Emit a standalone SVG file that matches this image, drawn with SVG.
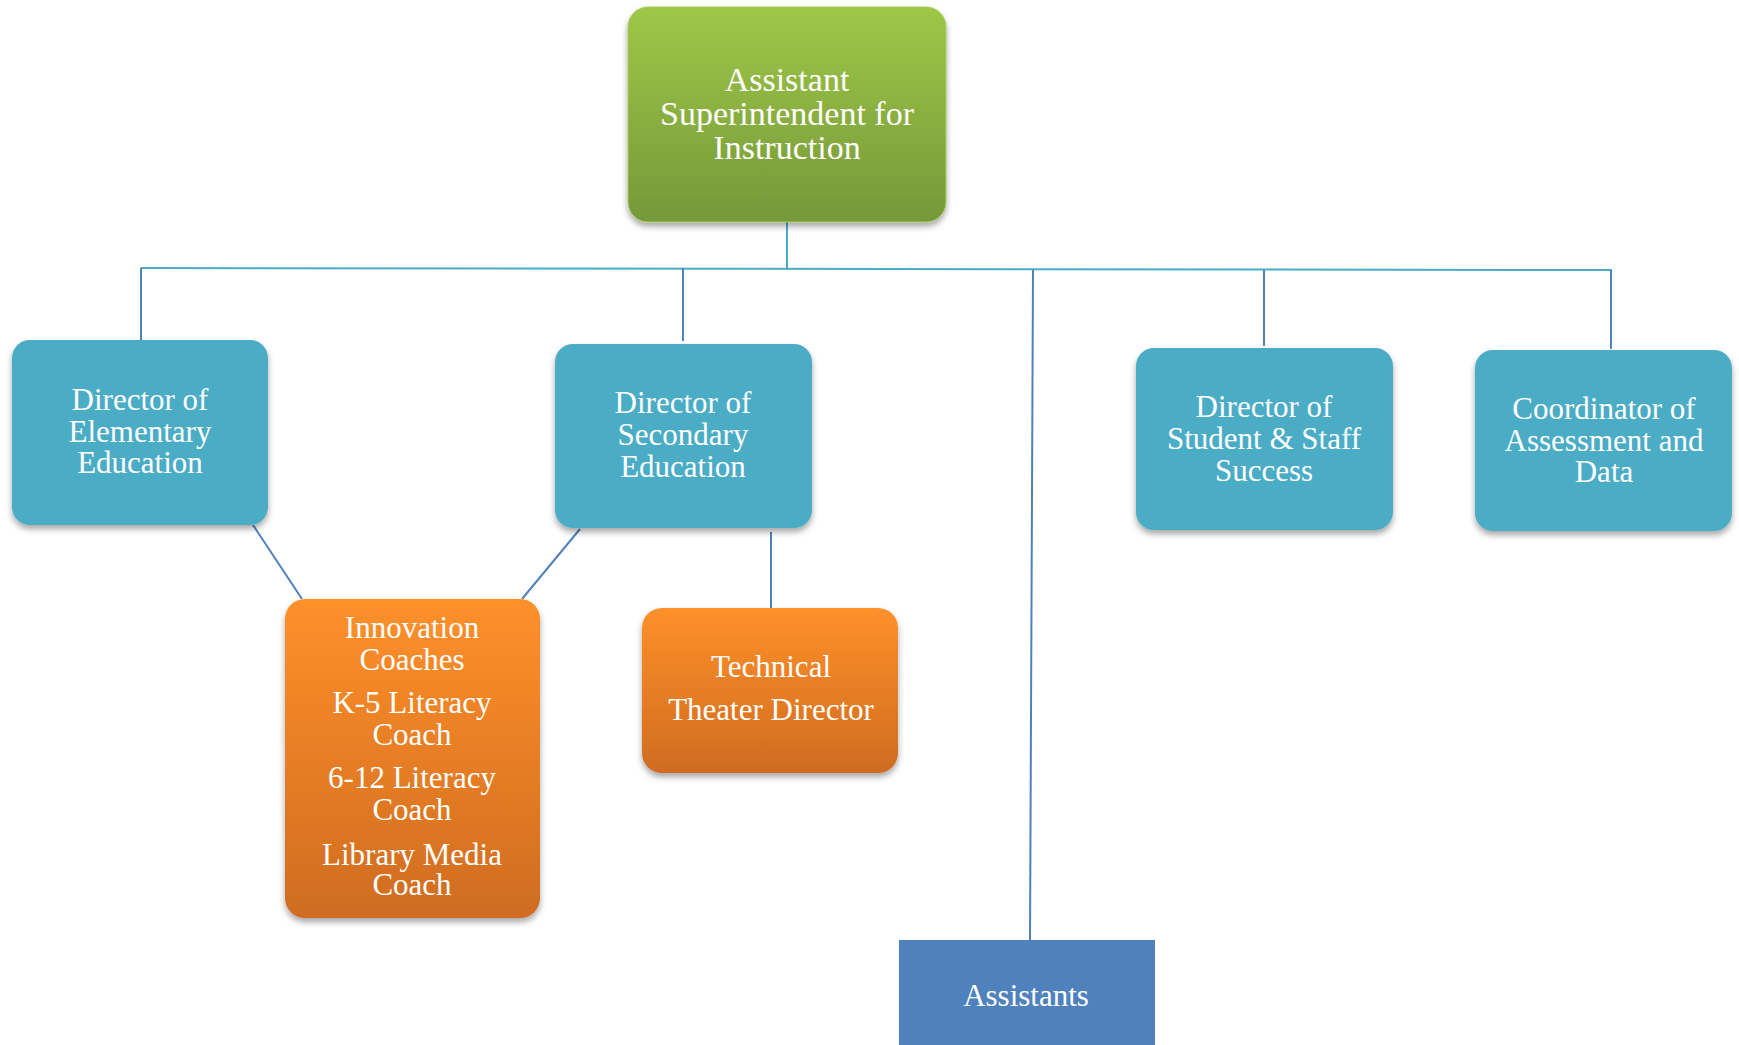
<svg xmlns="http://www.w3.org/2000/svg" width="1739" height="1045" viewBox="0 0 1739 1045">
<defs>
<linearGradient id="gGreen" x1="0" y1="0" x2="0" y2="1">
<stop offset="0" stop-color="#9EC747"/>
<stop offset="1" stop-color="#76983A"/>
</linearGradient>
<linearGradient id="gOrange" x1="0" y1="0" x2="0" y2="1">
<stop offset="0" stop-color="#FF902B"/>
<stop offset="1" stop-color="#CF6C20"/>
</linearGradient>
<filter id="sh" x="-10%" y="-10%" width="120%" height="125%">
<feDropShadow dx="0" dy="4" stdDeviation="3" flood-color="#000" flood-opacity="0.35"/>
</filter>
</defs>
<style>
.t{font-family:"Liberation Serif","Times New Roman",serif;fill:#fff;text-anchor:middle;font-size:31px}
.blue{fill:#4BACC6;filter:url(#sh)}
.orange{fill:url(#gOrange);filter:url(#sh)}
.c1{stroke:#4BACC6;stroke-width:2;fill:none}
.c2{stroke:#4F81BD;stroke-width:2;fill:none}
</style>
<rect width="1739" height="1045" fill="#fff"/>
<g id="connectors">
<line class="c1" x1="787" y1="222" x2="787" y2="270"/>
<line class="c1" x1="141" y1="268" x2="1612" y2="270"/>
<line class="c2" x1="141" y1="268" x2="141" y2="340"/>
<line class="c2" x1="683" y1="268" x2="683" y2="341"/>
<line class="c2" x1="1033" y1="270" x2="1030" y2="940"/>
<line class="c2" x1="1264" y1="270" x2="1264" y2="346"/>
<line class="c2" x1="1611" y1="270" x2="1611" y2="349"/>
<line class="c2" x1="253" y1="525" x2="302" y2="599"/>
<line class="c2" x1="580" y1="529" x2="522" y2="599"/>
<line class="c2" x1="771" y1="532" x2="771" y2="608"/>
</g>
<g id="n-top">
<rect x="628" y="7" width="318" height="215" rx="20" fill="url(#gGreen)" filter="url(#sh)" stroke="#A8CC5E" stroke-width="1"/>
<text class="t" style="font-size:34px" x="787"><tspan x="787" y="91">Assistant</tspan><tspan x="787" y="125">Superintendent for</tspan><tspan x="787" y="159">Instruction</tspan></text>
</g>
<g id="n-elem">
<rect class="blue" x="12" y="340" width="256" height="185" rx="18"/>
<text class="t"><tspan x="140" y="410">Director of</tspan><tspan x="140" y="442">Elementary</tspan><tspan x="140" y="473">Education</tspan></text>
</g>
<g id="n-sec">
<rect class="blue" x="555" y="344" width="257" height="184" rx="18"/>
<text class="t"><tspan x="683" y="413">Director of</tspan><tspan x="683" y="445">Secondary</tspan><tspan x="683" y="477">Education</tspan></text>
</g>
<g id="n-student">
<rect class="blue" x="1136" y="348" width="257" height="182" rx="18"/>
<text class="t"><tspan x="1264" y="417">Director of</tspan><tspan x="1264" y="449">Student &amp; Staff</tspan><tspan x="1264" y="481">Success</tspan></text>
</g>
<g id="n-coord">
<rect class="blue" x="1475" y="350" width="257" height="181" rx="18"/>
<text class="t"><tspan x="1604" y="419">Coordinator of</tspan><tspan x="1604" y="451">Assessment and</tspan><tspan x="1604" y="482">Data</tspan></text>
</g>
<g id="n-innov">
<rect class="orange" x="285" y="599" width="255" height="319" rx="20"/>
<text class="t"><tspan x="412" y="638">Innovation</tspan><tspan x="412" y="670">Coaches</tspan><tspan x="412" y="713">K-5 Literacy</tspan><tspan x="412" y="745">Coach</tspan><tspan x="412" y="788">6-12 Literacy</tspan><tspan x="412" y="820">Coach</tspan><tspan x="412" y="865">Library Media</tspan><tspan x="412" y="895">Coach</tspan></text>
</g>
<g id="n-tech">
<rect class="orange" x="642" y="608" width="256" height="165" rx="20"/>
<text class="t"><tspan x="771" y="677">Technical</tspan><tspan x="771" y="720">Theater Director</tspan></text>
</g>
<g id="n-assist">
<rect x="899" y="940" width="256" height="110" fill="#4F81BD"/>
<text class="t" x="1026" y="1006">Assistants</text>
</g>
</svg>
